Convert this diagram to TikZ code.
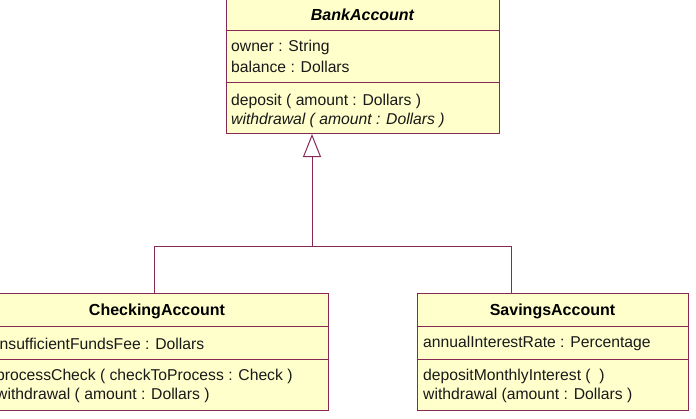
\documentclass[tikz,border=0pt]{standalone}
\usepackage{fontspec}
\setmainfont{Liberation Sans}
\usetikzlibrary{arrows.meta}
\definecolor{umlline}{RGB}{135,40,85}
\definecolor{umlfill}{RGB}{255,255,204}
\begin{document}
\begin{tikzpicture}[x=1pt,y=-1pt,
  classbox/.style={draw=umlline,fill=umlfill,line width=1pt,inner sep=0pt,minimum width=#1,anchor=north west},
  sep/.style={draw=umlline,line width=1pt},
  title/.style={font=\fontsize{16}{18}\selectfont\bfseries,inner sep=0pt,anchor=center},
  member/.style={font=\fontsize{15.7}{18}\selectfont,inner sep=0pt,anchor=west,text=black!90},
  conn/.style={draw=umlline,line width=1pt}]
\useasboundingbox[fill=white] (0,0) rectangle (696,418);
% BankAccount
\node[classbox=273pt,minimum height=134pt] (bank) at (226,-1) {};
\draw[sep] (226,30) -- (499,30);
\draw[sep] (226,82) -- (499,82);
\node[title,font=\fontsize{16}{18}\selectfont\bfseries\itshape] (bankt) at (362.5,15) {BankAccount};
\node[member] (b1) at (231,47) {owner : String};
\node[member] (b2) at (231,67) {balance : Dollars};
\node[member] (b3) at (231,101) {deposit ( amount : Dollars )};
\node[member,font=\fontsize{15.7}{18}\selectfont\itshape] (b4) at (231,120) {withdrawal ( amount : Dollars )};
% CheckingAccount
\node[classbox=338pt,minimum height=117pt] (check) at (-10,293) {};
\draw[sep] (-10,326) -- (328,326);
\draw[sep] (-10,359) -- (328,359);
\node[title] (checkt) at (157,311) {CheckingAccount};
\node[member] (c1) at (-4,344) {insufficientFundsFee : Dollars};
\node[member] (c2) at (-4,376) {processCheck ( checkToProcess : Check )};
\node[member] (c3) at (-4,395) {withdrawal ( amount : Dollars )};
% SavingsAccount
\node[classbox=271pt,minimum height=117pt] (save) at (417,293) {};
\draw[sep] (417,326) -- (688,326);
\draw[sep] (417,359) -- (688,359);
\node[title] (savet) at (552.5,311) {SavingsAccount};
\node[member] (s1) at (423,343) {annualInterestRate : Percentage};
\node[member] (s2) at (423,376) {depositMonthlyInterest (\ \ )};
\node[member] (s3) at (423,395) {withdrawal (amount : Dollars )};
% generalization
\coordinate (j) at (312,246);
\coordinate (cj) at (154,246);
\coordinate (sj) at (511,246);
\draw[conn] (cj |- check.north) -- (cj) -- (sj) -- (sj |- save.north);
\draw[conn,-{Triangle[open,length=23pt,width=18pt,line width=1pt]}] (j) -- (j |- bank.south);
\end{tikzpicture}
\end{document}
